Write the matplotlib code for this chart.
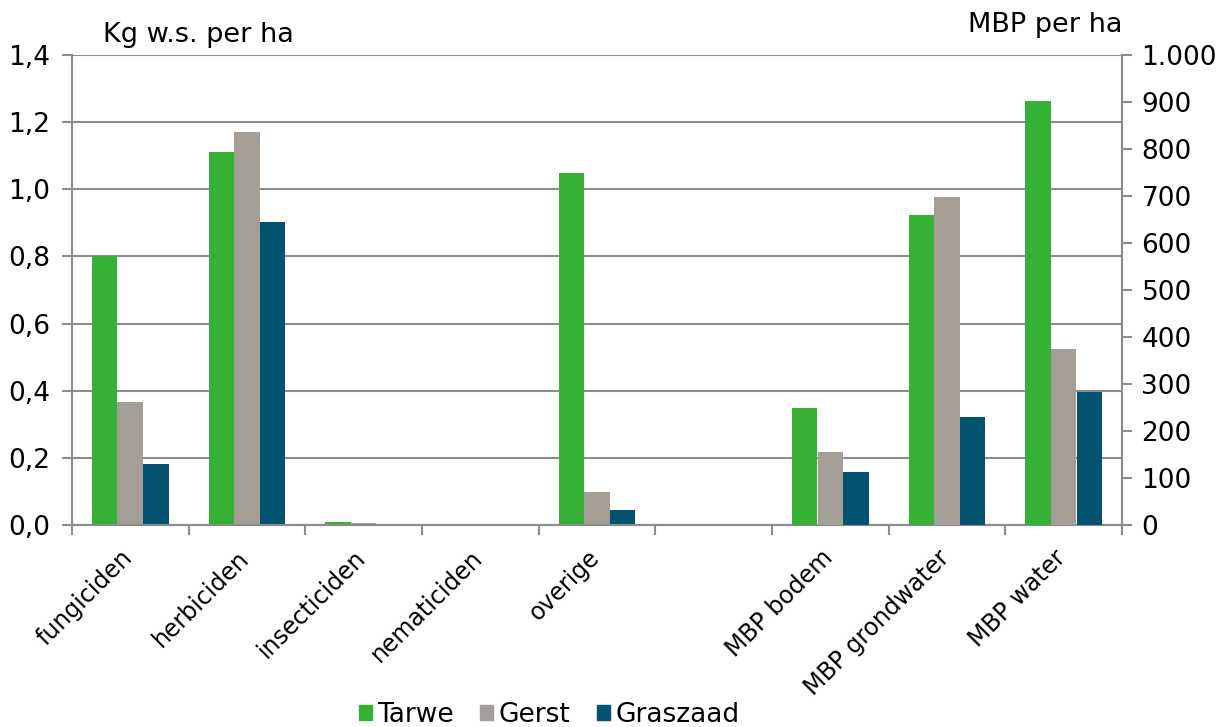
import numpy as np
import matplotlib
matplotlib.use("Agg")
import matplotlib.pyplot as plt
from matplotlib.patches import Patch
from matplotlib.ticker import FuncFormatter, MultipleLocator
from matplotlib.transforms import ScaledTranslation

# ---- data ----
categories = ["fungiciden", "herbiciden", "insecticiden", "nematiciden", "overige",
              "", "MBP bodem", "MBP grondwater", "MBP water"]
series = ["Tarwe", "Gerst", "Graszaad"]
colors = ["#35b135", "#a59e97", "#02536f"]

# kg w.s. per ha (left axis), first five categories
kg_tarwe = [0.80, 1.11, 0.009, 0.0, 1.048]
kg_gerst = [0.366, 1.171, 0.005, 0.0, 0.099]
kg_graszaad = [0.183, 0.904, 0.0, 0.0, 0.046]

# MBP per ha (right axis), last three categories
mbp_tarwe = [249, 659, 902]
mbp_gerst = [155, 698, 375]
mbp_graszaad = [112, 229, 284]

GRID = "#8c8c8c"
FS = 19
plt.rcParams["font.family"] = ["DejaVu Sans"]
plt.rcParams["font.size"] = FS

fig = plt.figure(figsize=(12.23, 7.27), dpi=100)
ax = fig.add_axes([72 / 1223, 1 - 525 / 727, 1050 / 1223, 470 / 727])
ax2 = ax.twinx()

x = np.arange(len(categories))
w = 0.22
kg_idx = x[:5]
mbp_idx = x[6:]
for i, (kg, mbp) in enumerate(zip([kg_tarwe, kg_gerst, kg_graszaad],
                                  [mbp_tarwe, mbp_gerst, mbp_graszaad])):
    off = (i - 1) * w
    ax.bar(kg_idx + off, kg, w, color=colors[i], zorder=3)
    ax2.bar(mbp_idx + off, mbp, w, color=colors[i], zorder=3)

ax.set_xlim(-0.5, len(categories) - 0.5)
ax.set_ylim(0, 1.4)
ax2.set_ylim(0, 1000)

ax.yaxis.set_major_locator(MultipleLocator(0.2))
ax.yaxis.set_major_formatter(FuncFormatter(lambda v, p: f"{v:.1f}".replace(".", ",")))
ax2.yaxis.set_major_locator(MultipleLocator(100))
ax2.yaxis.set_major_formatter(FuncFormatter(lambda v, p: f"{int(round(v)):,}".replace(",", ".")))

ax.grid(axis="y", color=GRID, linewidth=1.5, zorder=0)
ax.set_axisbelow(True)

for a in (ax, ax2):
    a.spines["top"].set_visible(False)
    for s in ("left", "right", "bottom"):
        a.spines[s].set_color(GRID)
        a.spines[s].set_linewidth(1.5)
    a.tick_params(axis="y", colors=GRID, labelcolor="black", length=7, width=1.5)
ax.tick_params(axis="y", pad=9)
ax2.tick_params(axis="y", pad=7)
ax2.spines["left"].set_visible(False)

# category labels at centres, ticks at boundaries
ax.set_xticks(x)
ax.set_xticklabels(categories, rotation=45, ha="right", va="top", fontsize=17)
ax.tick_params(axis="x", which="major", length=0, pad=15)
ax.set_xticks(np.arange(-0.5, len(categories)), minor=True)
ax.tick_params(axis="x", which="minor", length=7, width=1.5, colors=GRID)
for lab in ax.get_xticklabels():
    lab.set_transform(lab.get_transform() + ScaledTranslation(7 / 100, 0, fig.dpi_scale_trans))

fig.text(103 / 1223, 1 - 35 / 727, "Kg w.s. per ha", ha="left", va="center", fontsize=19.5)
fig.text(1122 / 1223, 1 - 25 / 727, "MBP per ha", ha="right", va="center", fontsize=19.5)

handles = [Patch(color=c, label=s) for c, s in zip(colors, series)]
fig.legend(handles=handles, loc="center", bbox_to_anchor=(549 / 1223, 1 - 715 / 727),
           ncol=3, frameon=False, handlelength=0.5, handleheight=0.5,
           handletextpad=0.2, columnspacing=1.0, fontsize=19)

fig.savefig("out.png", dpi=100)
